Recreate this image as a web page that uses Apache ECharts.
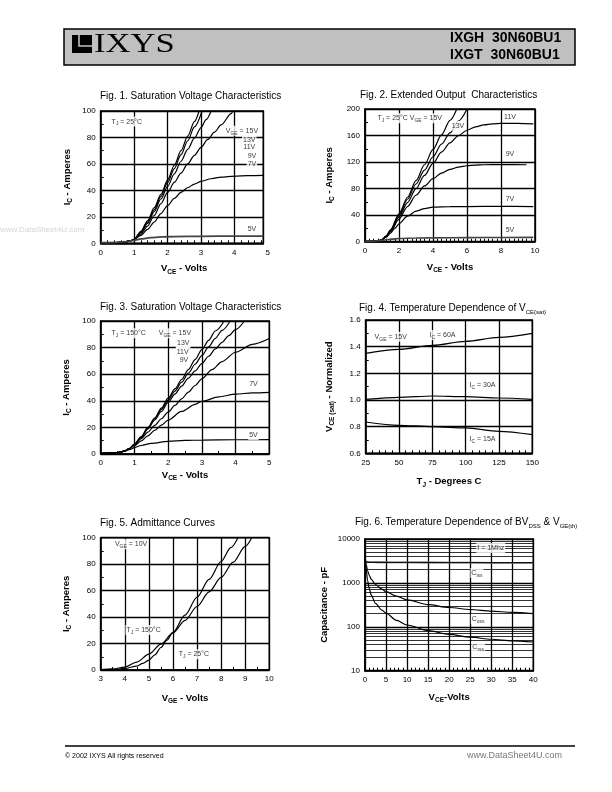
<!DOCTYPE html>
<html><head><meta charset="utf-8">
<script src="https://cdn.jsdelivr.net/npm/echarts@6/dist/echarts.min.js"></script>
<style>html,body{margin:0;padding:0;background:#fff}#c{width:612px;height:792px}</style>
</head><body><div id="c"></div>
<script>
const FONT = '"Liberation Sans", Arial, Helvetica, sans-serif';

// ---------- Fig 1: Saturation Voltage Characteristics, TJ = 25°C ----------
const f1_15V = [[0,0.5],[0.4,0.6],[0.7,1],[0.9,2],[1.0,3],[1.2,9],[1.4,17],[1.6,27],[1.8,37],[2.0,48],[2.2,59],[2.4,70],[2.6,81],[2.8,92],[2.94,100]];
const f1_13V = [[0,0.5],[0.4,0.6],[0.7,1],[0.9,2],[1.0,3],[1.2,8.5],[1.4,16],[1.6,25.5],[1.8,35.5],[2.0,46],[2.2,56.5],[2.4,67],[2.6,77.5],[2.8,88],[3.03,100]];
const f1_11V = [[0,0.5],[0.4,0.6],[0.7,1],[0.9,2],[1.0,3],[1.2,8],[1.4,15],[1.6,24],[1.8,33.5],[2.0,43],[2.2,52.5],[2.4,62],[2.6,71],[2.8,79.5],[3.0,87.5],[3.15,93.5],[3.3,100]];
const f1_9V  = [[0,0.5],[0.4,0.6],[0.7,1],[0.9,2],[1.0,3],[1.2,7],[1.4,13],[1.6,21],[1.8,30],[2.0,38.5],[2.2,46],[2.4,53],[2.6,60],[2.8,66.5],[3.0,72.5],[3.2,78.5],[3.4,84],[3.6,89.5],[3.9,98],[3.95,100]];
const f1_7V  = [[0,0.5],[0.4,0.6],[0.7,1],[0.9,2],[1.0,3],[1.2,6],[1.4,10.5],[1.6,16],[1.8,22.5],[2.0,28.5],[2.2,34],[2.4,38.5],[2.6,42],[2.8,44.8],[3.0,46.8],[3.3,48.8],[3.6,50],[4.0,50.8],[4.4,51.2],[4.86,51.4]];
const f1_5V  = [[0,0.5],[0.5,0.7],[0.8,1.3],[1.0,2.2],[1.2,3.3],[1.5,4.3],[1.8,4.8],[2.2,5.1],[3.0,5.3],[4.0,5.4],[4.86,5.4]];
const f1_notes = [[0.78,92,'T{s|J} = 25°C'],[4.22,85.1,'V{s|GE} = 15V'],[4.44,78.1,'13V'],[4.44,72.6,'11V'],[4.52,66.2,'9V'],[4.52,59.7,'7V'],[4.52,10.8,'5V']];

// ---------- Fig 2: Extended Output Characteristics ----------
const f2_15V = [[0,0.5],[0.5,0.7],[0.8,1.5],[1.0,3],[1.25,9],[1.5,18],[2.0,42],[2.5,67],[3.0,92],[3.5,116],[4.0,139],[4.5,161],[5.0,183],[5.4,200]];
const f2_13V = [[0,0.5],[0.5,0.7],[0.8,1.5],[1.0,3],[1.25,8.5],[1.5,17],[2.0,40],[2.5,64],[3.0,87],[3.5,108],[4.0,128],[4.5,147],[5.0,164],[5.5,182],[6.0,200]];
const f2_11V = [[0,0.5],[0.5,0.7],[0.8,1.5],[1.0,3],[1.25,8],[1.5,16],[2.0,37.5],[2.5,59],[3.0,80],[3.5,100],[4.0,118],[4.5,135],[5.0,149],[5.5,160],[6.0,168],[6.5,173],[7.0,176],[7.5,177.5],[8.0,178.3],[9.0,178.3],[9.9,177.5]];
const f2_9V  = [[0,0.5],[0.5,0.7],[0.8,1.5],[1.0,3],[1.25,7.5],[1.5,15],[2.0,34],[2.5,53],[3.0,70],[3.5,84],[4.0,95],[4.5,103.5],[5.0,109],[5.5,112.5],[6.0,114.5],[6.5,115.5],[7.0,116],[8.0,116.3],[9.5,116]];
const f2_7V  = [[0,0.5],[0.5,0.7],[0.8,1.5],[1.0,3],[1.25,7],[1.5,13],[1.75,20],[2.0,27],[2.5,38.5],[3.0,46],[3.5,50],[4.0,52],[5.0,52.8],[6.0,53],[8.0,53.2],[9.9,53]];
const f2_5V  = [[0,0.5],[0.5,0.7],[1.0,2],[1.5,3.8],[2.0,4.8],[3.0,5.5],[5.0,6],[7.0,6.3],[9.9,6.5]];
const f2_notes = [[2.63,186,'T{s|J} = 25°C V{s|GE} = 15V'],[5.47,174.8,'13V'],[8.53,188.4,'11V'],[8.53,131.7,'9V'],[8.53,64.4,'7V'],[8.53,17.6,'5V']];

// ---------- Fig 3: Saturation Voltage Characteristics, TJ = 150°C ----------
const f3_15V = [[0,0.5],[0.3,0.6],[0.5,1],[0.7,2.2],[0.85,4],[1.0,7.5],[1.2,13],[1.4,20],[1.6,27],[1.8,34.5],[2.0,42],[2.2,49],[2.4,56],[2.6,63.5],[2.8,71],[3.0,78.5],[3.2,85.5],[3.4,92.5],[3.66,100]];
const f3_13V = [[0,0.5],[0.3,0.6],[0.5,1],[0.7,2.2],[0.85,4],[1.0,7.3],[1.2,12.8],[1.4,19.5],[1.6,26.5],[1.8,33.5],[2.0,40.5],[2.2,47.3],[2.4,54],[2.6,60.8],[2.8,67.5],[3.0,74],[3.2,80.5],[3.4,87],[3.6,93],[3.84,100]];
const f3_11V = [[0,0.5],[0.3,0.6],[0.5,1],[0.7,2.2],[0.85,4],[1.0,7.2],[1.2,12.5],[1.4,18.8],[1.6,25.5],[1.8,32],[2.0,38.8],[2.2,45],[2.4,51],[2.6,57],[2.8,62.5],[3.0,68],[3.2,73.5],[3.4,79],[3.6,84],[3.8,89],[4.0,93.5],[4.26,100]];
const f3_9V  = [[0,0.5],[0.3,0.6],[0.5,1],[0.7,2.2],[0.85,4],[1.0,7],[1.2,11.5],[1.4,16.5],[1.6,21.5],[1.8,26.5],[2.0,31.5],[2.2,36.5],[2.4,41.5],[2.6,46.5],[2.8,51.5],[3.0,56.5],[3.3,63.5],[3.6,69.5],[4.0,76.5],[4.5,82.5],[5.0,86.8]];
const f3_7V  = [[0,0.5],[0.3,0.6],[0.5,1],[0.7,2.2],[0.85,4],[1.0,6.3],[1.2,9.8],[1.4,13.7],[1.6,17.7],[1.8,21.7],[2.0,25.5],[2.4,32],[2.8,37.3],[3.0,39.6],[3.5,43],[4.0,45],[4.5,46],[5.0,46.4]];
const f3_5V  = [[0,0.5],[0.3,0.6],[0.5,1],[0.7,2],[0.85,3.2],[1.0,4.8],[1.2,6.4],[1.5,8],[2.0,9.5],[2.5,10.2],[3.0,10.5],[4.0,10.7],[5.0,10.8]];
const f3_notes = [[0.83,90.8,'T{s|J} = 150°C'],[2.2,90.8,'V{s|GE} = 15V'],[2.45,83.2,'13V'],[2.43,76.9,'11V'],[2.47,70.7,'9V'],[4.53,52.6,'7V'],[4.53,14.3,'5V']];

// ---------- Fig 4: Temperature Dependence of VCE(sat) ----------
const f4_TJ   = [25, 50, 75, 100, 125, 150];
const f4_60A  = [1.35, 1.38, 1.41, 1.44, 1.47, 1.50];
const f4_30A  = [1.005, 1.02, 1.03, 1.025, 1.015, 1.005];
const f4_15A  = [0.835, 0.81, 0.80, 0.79, 0.765, 0.74];
const f4_notes = [[43.8,1.475,'V{s|GE} = 15V'],[82.6,1.487,'I{s|C} = 60A'],[112.6,1.112,'I{s|C} = 30A'],[112.6,0.705,'I{s|C} = 15A']];

// ---------- Fig 5: Admittance Curves ----------
const f5_150C = [[3,0.3],[3.5,0.8],[4,2.2],[4.5,6],[5,12],[5.5,19.5],[6,28],[6.5,37.5],[7,48],[7.5,59],[8,70],[8.5,81.5],[9,93.5],[9.27,100]];
const f5_25C  = [[3,0.1],[3.5,0.3],[4,1.2],[4.5,3],[4.75,5],[5,7.5],[5.25,11.5],[5.5,17],[5.75,22.5],[6,28.5],[6.5,41.5],[7,55],[7.5,68.5],[8,82],[8.4,92.5],[8.7,100]];
const f5_notes = [[4.26,95,'V{s|GE} = 10V'],[4.78,30.2,'T{s|J} = 150°C'],[6.87,11.9,'T{s|J} = 25°C']];

// ---------- Fig 6: Capacitance ----------
const f6_Ciss = [[0.2,3100],[1,2980],[3,2950],[10,2930],[20,2900],[30,2870],[40,2850]];
const f6_Coss = [[0,3800],[0.3,2600],[0.6,1900],[1,1500],[1.5,1200],[2.5,920],[4,720],[5,630],[7.5,500],[10,410],[15,320],[20,275],[25,248],[30,228],[35,213],[40,200]];
const f6_Crss = [[0,3800],[0.3,2000],[0.6,1150],[1,750],[1.5,520],[2.5,340],[4,240],[5,205],[7.5,140],[10,110],[15,82],[20,67],[25,58],[30,52],[35,48],[40,45]];
const f6_logLines = [20,30,40,50,60,70,80,90,200,300,400,500,600,700,800,900,2000,3000,4000,5000,6000,7000,8000,9000];
const f6_notes = [[29.9,6240,'f = 1Mhz'],[26.6,1680,'C{s|iss}'],[26.9,151,'C{s|oss}'],[26.9,35,'C{s|rss}']];

// ---------- styles ----------
const SUB_NAME = {fontSize: 6.5, fontWeight: 'bold', fontFamily: FONT, color: '#000', lineHeight: 6.5, verticalAlign: 'bottom'};
const NAME_STYLE = {fontSize: 9.5, fontWeight: 'bold', fontFamily: FONT, color: '#000', lineHeight: 13, rich: {s: SUB_NAME}};
const SUB_NOTE = {fontSize: 5, fontFamily: FONT, color: '#000', lineHeight: 5, verticalAlign: 'bottom'};

function axis(gi, o) {
  const a = {
    gridIndex: gi, type: o.type || 'value', min: o.min, max: o.max,
    axisLine: {show: o.line !== false, onZero: false, lineStyle: {color: '#000', width: 1.5}},
    axisTick: {show: false, inside: true},
    minorTick: {show: !!o.minor, splitNumber: o.minor || 5, length: 3, lineStyle: {color: '#000', width: 1}},
    splitLine: {show: o.split !== false, lineStyle: {color: '#000', width: 1.3}},
    minorSplitLine: {show: false},
    axisLabel: {show: o.labels !== false, color: '#000', fontSize: 8, fontFamily: FONT, margin: o.margin || 5},
    nameLocation: 'middle', nameGap: o.gap || 20, nameTextStyle: NAME_STYLE
  };
  if (o.name) a.name = o.name;
  if (o.fmt) a.axisLabel.formatter = o.fmt;
  if (o.interval) a.interval = o.interval;
  if (o.type === 'log') a.logBase = 10;
  if (o.hidden) a.show = false;
  return a;
}
function curve(gi, data, extra) {
  return Object.assign({type: 'line', xAxisIndex: gi, yAxisIndex: gi, data: data, showSymbol: false, symbol: 'none',
    smooth: 0.3, smoothMonotone: 'x', silent: true, z: 3, lineStyle: {color: '#000', width: 1.2}}, extra || {});
}
function notes(gi, items) {
  return {type: 'scatter', xAxisIndex: gi, yAxisIndex: gi, symbolSize: 1, itemStyle: {color: 'rgba(0,0,0,0)'}, silent: true, z: 6,
    data: items.map(a => ({value: [a[0], a[1]], name: a[2]})),
    label: {show: true, position: 'inside', formatter: p => p.name, fontSize: 7, fontFamily: FONT, color: '#000',
      backgroundColor: '#fff', padding: [0, 1], lineHeight: 10, rich: {s: SUB_NOTE}}};
}
const pairs = (xs, ys) => xs.map((x, i) => [x, ys[i]]);

const grids = [
  {left: 100.7, top: 111, width: 162.6, height: 132.3},
  {left: 100.7, top: 111, width: 167, height: 132.3, show: false},
  {left: 365, top: 109, width: 170, height: 132.7},
  {left: 100.7, top: 321, width: 168.6, height: 133},
  {left: 365.7, top: 320, width: 166.6, height: 133.3},
  {left: 100.7, top: 537.7, width: 168.6, height: 132.3},
  {left: 365, top: 539, width: 168.3, height: 131.7}
].map(g => Object.assign({show: true, borderColor: '#000', borderWidth: 1.5, backgroundColor: 'transparent'}, g));

const xAxes = [
  axis(0, {min: 0, max: 4.86, interval: 1, minor: 5, labels: false}),
  axis(1, {min: 0, max: 5, interval: 1, line: false, split: false, name: 'V{s|CE} - Volts', gap: 19}),
  axis(2, {min: 0, max: 10, interval: 2, minor: 8, name: 'V{s|CE} - Volts', gap: 19}),
  axis(3, {min: 0, max: 5, interval: 1, minor: 2, name: 'V{s|CE} - Volts', gap: 15}),
  axis(4, {min: 25, max: 150, interval: 25, minor: 5, name: 'T{s|J} - Degrees C', gap: 22}),
  axis(5, {min: 3, max: 10, interval: 1, minor: 2, name: 'V{s|GE} - Volts', gap: 22}),
  axis(6, {min: 0, max: 40, interval: 5, minor: 5, name: 'V{s|CE}-Volts', gap: 20})
];
const yAxes = [
  axis(0, {min: 0, max: 100, interval: 20, minor: 2, name: 'I{s|C} - Amperes', gap: 27}),
  axis(1, {min: 0, max: 100, hidden: true}),
  axis(2, {min: 0, max: 200, interval: 40, minor: 2, name: 'I{s|C} - Amperes', gap: 29}),
  axis(3, {min: 0, max: 100, interval: 20, minor: 2, name: 'I{s|C} - Amperes', gap: 28}),
  axis(4, {min: 0.6, max: 1.6, interval: 0.2, minor: 2, fmt: v => v.toFixed(1), name: 'V{s|CE (sat)} - Normalized', gap: 30}),
  axis(5, {min: 0, max: 100, interval: 20, minor: 2, name: 'I{s|C} - Amperes', gap: 28}),
  axis(6, {type: 'log', min: 10, max: 10000, fmt: v => String(v), name: 'Capacitance - pF', gap: 34})
];

const series = [
  curve(0, f1_15V), curve(0, f1_13V), curve(0, f1_11V), curve(0, f1_9V), curve(0, f1_7V),
  curve(0, f1_5V, {lineStyle: {color: '#444', width: 1.8}}),
  notes(0, f1_notes),
  curve(2, f2_15V), curve(2, f2_13V), curve(2, f2_11V), curve(2, f2_9V), curve(2, f2_7V),
  curve(2, f2_5V, {lineStyle: {color: '#444', width: 1.6}}),
  notes(2, f2_notes),
  curve(3, f3_15V), curve(3, f3_13V), curve(3, f3_11V), curve(3, f3_9V), curve(3, f3_7V), curve(3, f3_5V),
  notes(3, f3_notes),
  curve(4, pairs(f4_TJ, f4_60A)), curve(4, pairs(f4_TJ, f4_30A)), curve(4, pairs(f4_TJ, f4_15A)),
  notes(4, f4_notes),
  curve(5, f5_150C), curve(5, f5_25C),
  notes(5, f5_notes),
  curve(6, f6_Ciss, {lineStyle: {color: '#555', width: 1.8},
    markLine: {silent: true, symbol: ['none', 'none'], label: {show: false}, animation: false,
      lineStyle: {color: '#000', width: 0.8, type: 'solid'}, data: f6_logLines.map(v => ({yAxis: v}))}}),
  curve(6, f6_Coss), curve(6, f6_Crss),
  notes(6, f6_notes)
];

const SUB_T = {fontSize: 6, fontFamily: FONT, fill: '#000', verticalAlign: 'bottom', lineHeight: 6};
function title(x, y, text) {
  return {type: 'text', x: x, y: y, silent: true,
    style: {text: text, fill: '#000', font: '10px ' + FONT, verticalAlign: 'middle', align: 'left', lineHeight: 14, rich: {s: SUB_T}}};
}
const graphics = [
  {type: 'rect', shape: {x: 64, y: 29, width: 511, height: 36}, style: {fill: '#c0c0c0', stroke: '#000', lineWidth: 1.5}},
  {type: 'rect', shape: {x: 72, y: 35, width: 20, height: 18}, style: {fill: '#000'}},
  {type: 'polyline', shape: {points: [[79, 35], [79, 46], [92, 46]]}, style: {stroke: '#c0c0c0', lineWidth: 1.6, fill: null}},
  {type: 'text', x: 94, y: 44.5, scaleX: 1.28, style: {text: 'IXYS', font: '27px "Liberation Serif", "Times New Roman", serif', fill: '#000', verticalAlign: 'middle'}},
  {type: 'text', x: 450, y: 38.5, style: {text: 'IXGH  30N60BU1', font: 'bold 14px ' + FONT, fill: '#000', verticalAlign: 'middle'}},
  {type: 'text', x: 450, y: 55.5, style: {text: 'IXGT  30N60BU1', font: 'bold 14px ' + FONT, fill: '#000', verticalAlign: 'middle'}},
  title(100, 96.7, 'Fig. 1. Saturation Voltage Characteristics'),
  title(360, 95.7, 'Fig. 2. Extended Output  Characteristics'),
  title(100, 307.5, 'Fig. 3. Saturation Voltage Characteristics'),
  title(359, 308, 'Fig. 4. Temperature Dependence of V{s|CE(sat)}'),
  title(100, 523.3, 'Fig. 5. Admittance Curves'),
  title(355, 522, 'Fig. 6. Temperature Dependence of BV{s|DSS} & V{s|GE(th)}'),
  {type: 'text', x: 0, y: 230, style: {text: 'www.DataSheet4U.com', font: '8px ' + FONT, fill: '#d4d4d4', verticalAlign: 'middle'}},
  {type: 'line', shape: {x1: 65, y1: 746, x2: 575, y2: 746}, style: {stroke: '#000', lineWidth: 1.5}},
  {type: 'text', x: 65, y: 756, style: {text: '© 2002 IXYS All rights reserved', font: '7px ' + FONT, fill: '#000', verticalAlign: 'middle'}},
  {type: 'text', x: 562, y: 756, style: {text: 'www.DataSheet4U.com', font: '9px ' + FONT, fill: '#777', verticalAlign: 'middle', align: 'right'}}
];

const chart = echarts.init(document.getElementById('c'), null, {renderer: 'canvas'});
chart.setOption({
  backgroundColor: '#fff', animation: false,
  grid: grids, xAxis: xAxes, yAxis: yAxes, series: series, graphic: graphics
});
</script></body></html>
